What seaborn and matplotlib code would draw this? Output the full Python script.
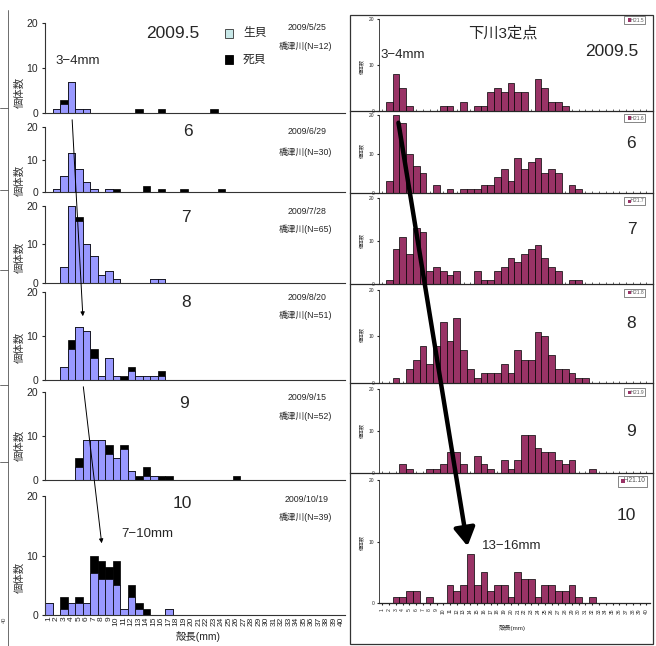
import numpy as np
import pandas as pd
import matplotlib
matplotlib.use("Agg")
import matplotlib.pyplot as plt
from matplotlib.patches import Rectangle, FancyArrowPatch
from matplotlib.lines import Line2D
import seaborn as sns

# ---------------- data (counts per 1-mm shell-length class, 1..40 mm) ----------------
bins = list(range(1, 41))

def expand(d):
    return [d.get(b, 0) for b in bins]

# Left: 橋津川, live (生貝) and dead (死貝)
left_months = ["2009.5", "6", "7", "8", "9", "10"]
left_dates = ["2009/5/25", "2009/6/29", "2009/7/28", "2009/8/20", "2009/9/15", "2009/10/19"]
left_n = [12, 30, 65, 51, 52, 39]

live_05 = expand({2: 1, 3: 2, 4: 7, 5: 1, 6: 1})
dead_05 = expand({3: 1, 13: 1, 16: 1, 23: 1})
live_06 = expand({2: 1, 3: 5, 4: 12, 5: 7, 6: 3, 7: 1, 9: 1})
dead_06 = expand({10: 1, 14: 2, 16: 1, 19: 1, 24: 1})
live_07 = expand({3: 4, 4: 20, 5: 16, 6: 10, 7: 7, 8: 2, 9: 3, 10: 1, 15: 1, 16: 1})
dead_07 = expand({5: 1})
live_08 = expand({3: 3, 4: 7, 5: 12, 6: 11, 7: 5, 8: 1, 9: 5, 10: 1, 12: 2, 13: 1, 14: 1, 15: 1, 16: 1})
dead_08 = expand({4: 2, 7: 2, 11: 1, 12: 1, 16: 1})
live_09 = expand({5: 3, 6: 9, 7: 9, 8: 9, 9: 6, 10: 5, 11: 7, 12: 2, 14: 1, 15: 1})
dead_09 = expand({5: 2, 9: 2, 11: 1, 13: 1, 14: 2, 16: 1, 17: 1, 26: 1})
live_10 = expand({1: 2, 3: 1, 4: 2, 5: 2, 6: 2, 7: 7, 8: 6, 9: 6, 10: 5, 11: 1, 12: 3, 13: 1, 17: 1})
dead_10 = expand({3: 2, 5: 1, 7: 3, 8: 3, 9: 2, 10: 4, 12: 2, 13: 1, 14: 1})

left_live = [live_05, live_06, live_07, live_08, live_09, live_10]
left_dead = [dead_05, dead_06, dead_07, dead_08, dead_09, dead_10]

# Right: 下川3定点
right_months = ["2009.5", "6", "7", "8", "9", "10"]
right_legend = ["H21.5", "H21.6", "H21.7", "H21.8", "H21.9", "H21.10"]
shimo_05 = expand({2: 2, 3: 8, 4: 5, 5: 1, 10: 1, 11: 1, 13: 2, 15: 1, 16: 1, 17: 4, 18: 5, 19: 4,
                   20: 6, 21: 4, 22: 4, 24: 7, 25: 5, 26: 2, 27: 2, 28: 1})
shimo_06 = expand({2: 3, 3: 20, 4: 18, 5: 10, 6: 7, 7: 5, 9: 2, 11: 1, 13: 1, 14: 1, 15: 1, 16: 2,
                   17: 2, 18: 4, 19: 6, 20: 3, 21: 9, 22: 6, 23: 8, 24: 9, 25: 5, 26: 6, 27: 5,
                   29: 2, 30: 1})
shimo_07 = expand({2: 1, 3: 8, 4: 11, 5: 7, 6: 13, 7: 12, 8: 3, 9: 4, 10: 3, 11: 2, 12: 3, 15: 3,
                   16: 1, 17: 1, 18: 3, 19: 4, 20: 6, 21: 5, 22: 7, 23: 8, 24: 9, 25: 6, 26: 4,
                   27: 3, 29: 1, 30: 1})
shimo_08 = expand({3: 1, 5: 3, 6: 5, 7: 8, 8: 4, 9: 8, 10: 13, 11: 9, 12: 14, 13: 7, 14: 3, 15: 1,
                   16: 2, 17: 2, 18: 2, 19: 4, 20: 2, 21: 7, 22: 5, 23: 5, 24: 11, 25: 10, 26: 6,
                   27: 3, 28: 3, 29: 2, 30: 1, 31: 1})
shimo_09 = expand({4: 2, 5: 1, 8: 1, 9: 1, 10: 2, 11: 5, 12: 5, 13: 2, 15: 4, 16: 2, 17: 1, 19: 3,
                   20: 1, 21: 3, 22: 9, 23: 9, 24: 6, 25: 5, 26: 5, 27: 3, 28: 2, 29: 3, 32: 1})
shimo_10 = expand({3: 1, 4: 1, 5: 2, 6: 2, 8: 1, 11: 3, 12: 2, 13: 3, 14: 8, 15: 3, 16: 5, 17: 2,
                   18: 3, 19: 3, 20: 1, 21: 5, 22: 4, 23: 4, 24: 1, 25: 3, 26: 3, 27: 2, 28: 2,
                   29: 3, 30: 1, 32: 1})
right_counts = [shimo_05, shimo_06, shimo_07, shimo_08, shimo_09, shimo_10]

# ---------------- style ----------------
sns.set_style("white")
plt.rcParams["font.family"] = ["Liberation Sans", "Noto Sans CJK JP", "DejaVu Sans"]
plt.rcParams["axes.linewidth"] = 0.8

W, H = 656, 646
fig = plt.figure(figsize=(W / 100, H / 100), dpi=100)
fig.patch.set_facecolor("white")

LIVE = "#9999FF"
DEAD = "#000000"
MAROON = "#993366"


def px_axes(x0, y_top, x1, y_bot):
    return fig.add_axes([x0 / W, 1 - y_bot / H, (x1 - x0) / W, (y_bot - y_top) / H])


def ftext(x, y, s, **kw):
    kw.setdefault("ha", "center")
    kw.setdefault("va", "center")
    return fig.text(x / W, 1 - y / H, s, **kw)


def fline(xs, ys, **kw):
    fig.add_artist(Line2D([x / W for x in xs], [1 - y / H for y in ys],
                          transform=fig.transFigure, **kw))


# ---------------- left panels ----------------
left_box = [(22.7, 113.3), (126.7, 192.3), (205.7, 282.7), (291.7, 380), (391.7, 480), (496, 615)]
for i, (top, bot) in enumerate(left_box):
    ax = px_axes(45, top, 345, bot)
    ax.set_facecolor("none")
    df = pd.DataFrame({"mm": bins, "live": left_live[i],
                       "total": np.array(left_live[i]) + np.array(left_dead[i])})
    sns.barplot(data=df, x="mm", y="total", order=bins, color=DEAD, saturation=1, width=1,
                edgecolor="black", linewidth=0.5, errorbar=None, ax=ax)
    sns.barplot(data=df, x="mm", y="live", order=bins, color=LIVE, saturation=1, width=1,
                edgecolor="black", linewidth=0.5, errorbar=None, ax=ax)
    ax.set_xlim(-0.5, 39.5)
    ax.set_ylim(0, 20)
    ax.set_yticks([0, 10, 20])
    ax.tick_params(axis="y", labelsize=7.5, length=2, pad=3, direction="out", left=True)
    ax.set_xlabel("")
    ax.set_ylabel("")
    for s in ["top", "right"]:
        ax.spines[s].set_visible(False)
    ax.spines["left"].set_color("#333333")
    ax.spines["bottom"].set_color("#333333")
    if i == 5:
        ax.set_xticks(range(40))
        ax.set_xticklabels([str(b) for b in bins], rotation=90, fontsize=6)
        ax.tick_params(axis="x", length=0, pad=1)
    else:
        ax.set_xticks([])

# left annotations
ylab_y = [92, 180, 257, 347, 445, 577]
for y in ylab_y:
    ftext(20, y, "個体数", rotation=90, fontsize=7.5, color="#333333")

ftext(173, 33, "2009.5", fontsize=12.5)
month_pos = [(188, 132), (186, 217), (186, 302), (184, 403), (182, 503)]
for (x, y), m in zip(month_pos, left_months[1:]):
    ftext(x, y, m, fontsize=12.5)

date_y = [(27, 46), (131, 152), (212, 229), (297, 315), (398, 416), (499, 517)]
for (yd, yr), d, n in zip(date_y, left_dates, left_n):
    ftext(307, yd, d, fontsize=6.3)
    ftext(305, yr, f"橋津川(N={n})", fontsize=6.3)

# legend (生貝 / 死貝)
fig.add_artist(Rectangle((225 / W, 1 - 38 / H), 8 / W, 9 / H, transform=fig.transFigure,
                         fc="#C8E8E8", ec="#333333", lw=0.6))
fig.add_artist(Rectangle((225 / W, 1 - 64 / H), 8 / W, 9 / H, transform=fig.transFigure,
                         fc="black", ec="black", lw=0.6))
ftext(243, 33, "生貝", fontsize=8.5, ha="left")
ftext(243, 60, "死貝", fontsize=8.5, ha="left")

ftext(78, 61, "3−4mm", fontsize=9.5)
ftext(147, 534, "7−10mm", fontsize=9.5)
ftext(198, 637, "殻長(mm)", fontsize=7.5)

# thin arrows
fig.add_artist(FancyArrowPatch((72 / W, 1 - 117 / H), (83 / W, 1 - 319 / H), transform=fig.transFigure,
                               arrowstyle="-|>", mutation_scale=6, lw=0.7, color="black"))
fig.add_artist(FancyArrowPatch((83 / W, 1 - 384 / H), (102 / W, 1 - 546 / H), transform=fig.transFigure,
                               arrowstyle="-|>", mutation_scale=6, lw=0.7, color="black"))

# left-edge remnants
fline([8, 8], [10, 646], color="#555555", lw=0.6)
for y in [108, 190, 270, 385, 462]:
    fline([0, 8], [y, y], color="#555555", lw=0.6)
ftext(4, 620, "40", fontsize=4, rotation=90, color="#555555")

# ---------------- right panels ----------------
right_box = [(19.3, 110.7), (115, 192.7), (197.7, 284), (290, 382.7), (389.3, 472.7), (480, 603.3)]
xl = (-4.78, 39.98)
for i, (top, bot) in enumerate(right_box):
    ax = px_axes(350, top, 653, bot)
    ax.set_facecolor("none")
    df = pd.DataFrame({"mm": bins, "n": right_counts[i]})
    sns.barplot(data=df, x="mm", y="n", order=bins, color=MAROON, saturation=1, width=1,
                edgecolor="black", linewidth=0.5, errorbar=None, ax=ax)
    ax.set_xlim(*xl)
    ax.set_ylim(0, 20)
    ax.set_yticks([0, 10, 20])
    ax.spines["left"].set_position(("data", -0.5))
    ax.spines["left"].set_bounds(0, 20)
    ax.spines["left"].set_linewidth(0.6)
    ax.spines["bottom"].set_linewidth(0.9)
    for s in ["top", "right"]:
        ax.spines[s].set_visible(False)
    ax.tick_params(axis="y", labelsize=3.5, length=1.5, pad=2, left=True)
    ax.set_xlabel("")
    ax.set_ylabel("")
    ax.set_xticks(range(40))
    if i == 5:
        ax.spines["bottom"].set_bounds(-0.5, 39.5)
        ax.set_xticklabels([str(b) for b in bins], rotation=90, fontsize=3.6)
        ax.tick_params(axis="x", length=1.5, pad=2, direction="out", bottom=True)
    else:
        ax.set_xticklabels([])
        ax.tick_params(axis="x", length=1.5, direction="in", bottom=True, width=0.5)

# right frame
fig.add_artist(Rectangle((350 / W, 1 - 644 / H), 303 / W, 629 / H, transform=fig.transFigure,
                         fill=False, ec="#333333", lw=0.9))

ry_lab = [67, 150, 240, 335, 430, 542]
for y in ry_lab:
    ftext(362, y, "個体数", rotation=90, fontsize=3.6, color="#333333")

# small series legends (■ H21.x)
leg_pos = [(625, 20), (625, 118), (625, 201), (625, 293), (625, 392), (620, 481)]
for k, ((x, y), lab) in enumerate(zip(leg_pos, right_legend)):
    fs = 4.8 if k == 5 else 3.5
    sz = 4 if k == 5 else 3
    ftext(x, y, "  " + lab if k == 5 else "    " + lab, fontsize=fs, color="#555555", ha="left",
          bbox=dict(boxstyle="square,pad=0.3", fc="white", ec="#555555", lw=0.5), zorder=3)
    off = 1.0 if k == 5 else 2.5
    fig.add_artist(Rectangle(((x + off) / W, 1 - (y + sz / 2) / H), sz / W, sz / H,
                             transform=fig.transFigure, fc=MAROON, ec="none", zorder=5))

ftext(503, 33, "下川3定点", fontsize=11)
ftext(612, 51, "2009.5", fontsize=12.5)
ftext(403, 55, "3−4mm", fontsize=9.5)
r_month_pos = [(631, 144), (632, 230), (631, 323), (631, 431), (626, 516)]
for (x, y), m in zip(r_month_pos, right_months[1:]):
    ftext(x, y, m, fontsize=12.5)
ftext(512, 546, "13−16mm", fontsize=9.5)
ftext(512, 628, "殻長(mm)", fontsize=4.5)

# thick arrow
fig.add_artist(FancyArrowPatch((398 / W, 1 - 120 / H), (468 / W, 1 - 549 / H), transform=fig.transFigure,
                               arrowstyle="-|>,head_length=0.6,head_width=0.35", mutation_scale=18,
                               lw=3.2, color="black"))

fig.savefig("out.png", dpi=100, facecolor="white")
